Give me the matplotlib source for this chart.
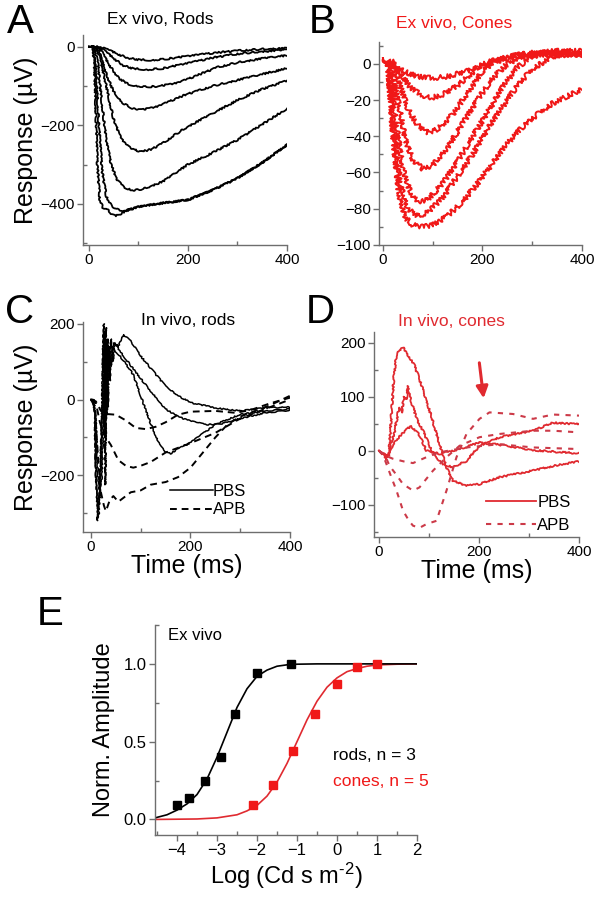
import matplotlib
matplotlib.use("Agg")
import matplotlib.pyplot as plt
from matplotlib.ticker import MultipleLocator

plt.rcParams['font.family'] = ['Liberation Sans', 'DejaVu Sans']
plt.rcParams['mathtext.fontset'] = 'custom'
plt.rcParams['mathtext.rm'] = 'Liberation Sans'
plt.rcParams['mathtext.it'] = 'Liberation Sans:italic'
plt.rcParams['mathtext.bf'] = 'Liberation Sans:bold'

# ---------------- Panel A: ex vivo rods (time ms, response uV) ----------------
rods_ex_t = [
    [0, 20, 40, 60, 80, 100, 120, 150, 200, 250, 300, 350, 400],
    [0, 15, 30, 50, 70, 90, 120, 150, 200, 250, 300, 350, 400],
    [0, 15, 25, 40, 60, 80, 110, 140, 180, 220, 260, 300, 350, 400],
    [0, 12, 20, 35, 50, 70, 90, 110, 140, 170, 200, 250, 300, 350, 400],
    [0, 12, 20, 30, 40, 50, 60, 70, 85, 105, 125, 150, 175, 200, 250, 300, 350, 400],
    [0, 10, 18, 25, 35, 45, 55, 70, 90, 110, 150, 200, 250, 300, 350, 400],
    [0, 8, 14, 20, 27, 35, 45, 60, 75, 100, 150, 200, 250, 300, 350, 400],
    [0, 8, 12, 17, 22, 28, 35, 45, 55, 65, 80, 100, 150, 200, 250, 300, 350, 400],
]
rods_ex_v = [
    [0, 0, -8, -20, -29, -33, -34, -32, -24, -16, -10, -6, -4],
    [0, 0, -8, -30, -48, -56, -58, -55, -42, -28, -18, -12, -8],
    [0, 0, -10, -45, -80, -96, -102, -101, -92, -72, -52, -40, -30, -22],
    [0, 0, -10, -70, -115, -145, -158, -160, -152, -135, -120, -100, -85, -70, -55],
    [0, 0, -20, -70, -130, -185, -220, -243, -260, -267, -262, -245, -223, -203, -170, -136, -108, -86],
    [0, 0, -40, -130, -240, -300, -335, -358, -366, -362, -343, -300, -270, -237, -198, -157],
    [0, 0, -60, -200, -320, -380, -405, -416, -418, -408, -398, -390, -365, -335, -295, -250],
    [0, 0, -80, -300, -390, -410, -412, -425, -430, -425, -415, -408, -398, -390, -365, -335, -295, -250],
]

# ---------------- Panel B: ex vivo cones ----------------
cones_ex_t = [
    [0, 20, 40, 70, 100, 130, 170, 200, 250, 300, 350, 400],
    [0, 20, 35, 55, 75, 95, 120, 150, 175, 200, 250, 300, 350, 400],
    [0, 20, 35, 50, 70, 90, 110, 140, 170, 200, 230, 270, 320, 400],
    [0, 15, 30, 45, 60, 80, 100, 130, 160, 190, 220, 250, 290, 340, 400],
    [0, 12, 25, 40, 55, 70, 90, 120, 150, 180, 210, 240, 270, 300, 350, 400],
    [0, 10, 22, 35, 50, 70, 90, 120, 150, 180, 210, 240, 270, 300, 340, 400],
    [0, 10, 20, 32, 45, 60, 80, 100, 130, 160, 190, 220, 250, 280, 310, 340, 370, 400],
]
cones_ex_v = [
    [2, 0, -4, -7, -8, -7, -4, -1, 3, 5, 5, 5],
    [2, 1, -5, -13, -17, -19, -17, -12, -6, 0, 4, 6, 5, 5],
    [3, 0, -12, -25, -34, -38, -36, -28, -16, -4, 2, 5, 6, 5],
    [3, 0, -20, -42, -53, -58, -56, -46, -33, -20, -8, 0, 5, 7, 6],
    [3, 0, -30, -58, -71, -76, -75, -66, -54, -40, -27, -13, -2, 4, 7, 7],
    [3, 0, -35, -67, -80, -84, -82, -74, -62, -50, -36, -24, -12, -3, 4, 6],
    [3, 0, -40, -72, -85, -89, -90, -89, -84, -76, -66, -55, -44, -35, -28, -22, -18, -14],
]

# ---------------- Panel C: in vivo rods ----------------
rods_iv_pbs_t = [
    [0, 4, 7, 10, 13, 16, 19, 22, 24, 26, 28, 30, 32, 34, 37, 40, 44, 48, 55, 65, 80, 100, 125, 150, 175, 200, 250, 300, 350, 400],
    [0, 5, 8, 11, 14, 17, 21, 24, 27, 29, 31, 34, 37, 41, 46, 52, 60, 80, 100, 125, 150, 175, 200, 230, 260, 300, 350, 400],
    [0, 6, 10, 14, 18, 22, 25, 27, 29, 31, 34, 38, 42, 48, 55, 70, 85, 100, 118, 135, 150, 160, 175, 200, 225, 250, 300, 350, 400],
]
rods_iv_pbs_v = [
    [0, 0, -30, -200, -320, -300, -180, -40, 120, 200, -80, 190, -40, 160, 60, 160, 100, 150, 140, 172, 155, 115, 75, 35, 10, -8, -22, -30, -22, -20],
    [0, 0, -40, -240, -290, -250, -120, 60, 180, -100, 120, -20, 140, 90, 150, 140, 125, 90, 55, 15, -25, -45, -57, -66, -65, -50, -35, -28],
    [0, 0, -60, -200, -260, -200, -50, 150, -225, 100, 130, 50, 140, 130, 120, 95, 66, 10, -57, -110, -138, -143, -130, -114, -90, -66, -39, -30, -25],
]
rods_iv_apb_t = [
    [0, 10, 20, 30, 50, 70, 90, 110, 130, 150, 175, 200, 250, 290, 320, 360, 400],
    [0, 10, 18, 25, 30, 40, 55, 70, 85, 100, 120, 150, 200, 250, 300, 350, 400],
    [0, 8, 14, 20, 26, 30, 38, 45, 55, 65, 80, 100, 120, 150, 175, 200, 225, 250, 275, 300, 330, 360, 400],
]
rods_iv_apb_v = [
    [0, -5, -30, -38, -40, -55, -75, -78, -72, -60, -40, -32, -30, -35, -28, -10, 5],
    [0, -10, -60, -90, -100, -120, -160, -175, -180, -175, -165, -140, -115, -88, -50, -25, 0],
    [0, -20, -150, -245, -280, -295, -265, -255, -270, -260, -245, -240, -225, -218, -205, -180, -140, -100, -65, -45, -30, -15, 10],
]

# ---------------- Panel D: in vivo cones ----------------
cones_iv_pbs_t = [
    [0, 8, 15, 20, 25, 30, 35, 42, 48, 55, 60, 70, 80, 95, 115, 135, 148, 175, 201, 241, 308, 350, 400],
    [0, 8, 15, 20, 25, 30, 35, 40, 45, 50, 55, 58, 62, 65, 75, 88, 108, 128, 148, 175, 201, 241, 308, 348, 400],
    [0, 8, 15, 20, 25, 35, 45, 55, 65, 80, 95, 121, 161, 201, 241, 308, 350, 400],
]
cones_iv_pbs_v = [
    [0, -8, -15, -5, 70, 140, 180, 185, 192, 180, 175, 160, 135, 93, 31, -31, -56, -65, -62, -49, -37, -28, -20],
    [0, -6, -12, -8, 15, 30, 55, 80, 70, 100, 95, 120, 100, 90, 60, 37, -6, -25, -31, -19, 9, 25, 37, 52, 49],
    [0, -5, -10, -5, 5, 20, 30, 40, 45, 30, 0, -6, 3, 15, 11, 1, -2, -5],
]
cones_iv_apb_t = [
    [0, 8, 15, 25, 35, 48, 60, 68, 81, 95, 115, 135, 155, 175, 201, 221, 268, 308, 348, 400],
    [0, 8, 15, 21, 35, 48, 68, 81, 108, 135, 161, 201, 241, 308, 348, 400],
    [0, 8, 15, 28, 50, 68, 95, 121, 175, 241, 308, 400],
]
cones_iv_apb_v = [
    [0, -8, -25, -50, -74, -111, -130, -139, -143, -136, -130, -74, -12, 31, 59, 71, 68, 59, 67, 65],
    [0, -8, -15, -28, -45, -62, -74, -68, -37, -12, 9, 25, 31, 37, 37, 34],
    [0, -5, -10, -15, -20, -23, -12, -3, 6, 12, 6, 3],
]

# ---------------- Panel E: intensity-response ----------------
rod_logI = [-4.0, -3.7, -3.3, -2.9, -2.55, -2.0, -1.15]
rod_amp = [0.09, 0.14, 0.25, 0.40, 0.68, 0.94, 1.00]
cone_logI = [-2.1, -1.6, -1.1, -0.55, 0.0, 0.5, 1.0]
cone_amp = [0.09, 0.22, 0.44, 0.68, 0.87, 0.98, 1.00]
# fitted curves
rod_fit_x = [-4.55, -4.25, -4.0, -3.75, -3.5, -3.25, -3.0, -2.75, -2.5, -2.25, -2.0, -1.75, -1.5, -1.25, -1.0, -0.5, 0.0, 1.0, 2.0]
rod_fit_y = [0.01, 0.03, 0.06, 0.10, 0.16, 0.26, 0.40, 0.56, 0.72, 0.84, 0.92, 0.96, 0.985, 0.994, 0.998, 1.0, 1.0, 1.0, 1.0]
cone_fit_x = [-4.55, -3.5, -3.0, -2.5, -2.25, -2.0, -1.75, -1.5, -1.25, -1.0, -0.75, -0.5, -0.25, 0.0, 0.25, 0.5, 0.75, 1.0, 1.5, 2.0]
cone_fit_y = [0.0, 0.003, 0.01, 0.03, 0.055, 0.09, 0.15, 0.24, 0.36, 0.50, 0.64, 0.76, 0.85, 0.91, 0.95, 0.97, 0.985, 0.993, 0.998, 1.0]

RED = '#f01818'
RED_D = '#e02a30'
RED_DASH = '#cc3a48'
AXC = '#6e6e6e'

fig = plt.figure(figsize=(5.99, 9.0), dpi=100)


def style(ax, xmaj, xmin, ymaj, ymin, fs=11):
    for s in ('top', 'right'):
        ax.spines[s].set_visible(False)
    for s in ('left', 'bottom'):
        ax.spines[s].set_color(AXC)
        ax.spines[s].set_linewidth(1.0)
    ax.xaxis.set_major_locator(MultipleLocator(xmaj))
    ax.xaxis.set_minor_locator(MultipleLocator(xmin))
    ax.yaxis.set_major_locator(MultipleLocator(ymaj))
    ax.yaxis.set_minor_locator(MultipleLocator(ymin))
    ax.tick_params(which='major', direction='out', length=4, width=1, color=AXC, labelsize=fs, pad=2)
    ax.tick_params(which='minor', direction='in', length=3, width=1, color=AXC)
    ax.set_facecolor('none')


# ---- A ----
axA = fig.add_axes([83/599, 1-245/900, (287-83)/599, (245-35)/900])
for t, v in zip(rods_ex_t, rods_ex_v):
    ln, = axA.plot(t, v, color='black', lw=1.3)
    ln.set_sketch_params(scale=0.8, length=4, randomness=20)
axA.set_xlim(-12, 400)
axA.set_ylim(-505, 30)
style(axA, 200, 100, 200, 100)
axA.set_ylabel('Response (\u00b5V)', fontsize=18, labelpad=2)
fig.text(160/599, 1-19/900, 'Ex vivo, Rods', fontsize=12.5, ha='center', va='center')

# ---- B ----
axB = fig.add_axes([379/599, 1-245/900, (582-379)/599, (245-42)/900])
for t, v in zip(cones_ex_t, cones_ex_v):
    ln, = axB.plot(t, v, color=RED, lw=1.4)
    ln.set_sketch_params(scale=2.4, length=1.8, randomness=8)
axB.set_xlim(-8, 400)
axB.set_ylim(-100, 12)
style(axB, 200, 100, 20, 10)
fig.text(454/599, 1-23/900, 'Ex vivo, Cones', fontsize=12.5, ha='center', va='center', color=RED)

# ---- C ----
axC = fig.add_axes([83/599, 1-532/900, (290-83)/599, (532-322)/900])
for t, v in zip(rods_iv_pbs_t, rods_iv_pbs_v):
    ln, = axC.plot(t, v, color='black', lw=1.1)
    ln.set_sketch_params(scale=0.6, length=4, randomness=20)
for t, v in zip(rods_iv_apb_t, rods_iv_apb_v):
    axC.plot(t, v, color='black', lw=1.4, ls=(0, (3.5, 2.5)))
axC.set_xlim(-16, 400)
axC.set_ylim(-350, 205)
style(axC, 200, 100, 200, 100)
axC.set_ylabel('Response (\u00b5V)', fontsize=18, labelpad=2)
axC.set_xlabel('Time (ms)', fontsize=18, labelpad=0)
fig.text(188/599, 1-320/900, 'In vivo, rods', fontsize=12.5, ha='center', va='center')
hC1, = axC.plot([], [], color='black', lw=1.1)
hC2, = axC.plot([], [], color='black', lw=1.4, ls=(0, (3.5, 2.5)))
axC.legend([hC1, hC2], ['PBS', 'APB'], loc='lower right', bbox_to_anchor=(0.83, 0.03),
           frameon=False, fontsize=12, handlelength=2.6, handletextpad=0.0,
           labelspacing=0.2, borderpad=0)

# ---- D ----
axD = fig.add_axes([374/599, 1-537/900, (579-374)/599, (537-332)/900])
for t, v in zip(cones_iv_pbs_t, cones_iv_pbs_v):
    ln, = axD.plot(t, v, color=RED_D, lw=1.3)
    ln.set_sketch_params(scale=0.8, length=3, randomness=15)
for t, v in zip(cones_iv_apb_t, cones_iv_apb_v):
    axD.plot(t, v, color=RED_DASH, lw=1.5, ls=(0, (2.5, 3)))
axD.set_xlim(-10, 400)
axD.set_ylim(-160, 220)
style(axD, 200, 100, 100, 50)
axD.set_xlabel('Time (ms)', fontsize=18, labelpad=0)
fig.text(451/599, 1-322/900, 'In vivo, cones', fontsize=12.5, ha='center', va='center', color=RED_D)
axD.annotate('', xy=(210, 92), xytext=(200, 168),
             arrowprops=dict(arrowstyle='-|>,head_width=0.35,head_length=0.7', color=RED_D, lw=2.2))
hD1, = axD.plot([], [], color=RED_D, lw=1.3)
hD2, = axD.plot([], [], color=RED_DASH, lw=1.5, ls=(0, (2.5, 3)))
axD.legend([hD1, hD2], ['PBS', 'APB'], loc='lower right', bbox_to_anchor=(1.0, -0.02),
           frameon=False, fontsize=12, handlelength=3.0, handletextpad=0.1,
           labelspacing=0.45, borderpad=0)

# ---- E ----
axE = fig.add_axes([155/599, 1-835/900, (417-155)/599, (835-625)/900])
axE.plot(cone_fit_x, cone_fit_y, color=RED_D, lw=1.2)
axE.plot(rod_fit_x, rod_fit_y, color='black', lw=1.2)
axE.plot(rod_logI, rod_amp, ls='none', marker='s', ms=5.5, color='black')
axE.plot(cone_logI, cone_amp, ls='none', marker='s', ms=5.5, color=RED)
axE.set_xlim(-4.55, 2)
axE.set_ylim(-0.1, 1.25)
style(axE, 1, 0.5, 0.5, 0.25, fs=12)
axE.set_ylabel('Norm. Amplitude', fontsize=17, labelpad=6)
axE.set_xlabel('Log (Cd s m$^{\u2010\\mathrm{2}}$)', fontsize=17, labelpad=2)
fig.text(168/599, 1-635/900, 'Ex vivo', fontsize=12, ha='left', va='center')
fig.text(333/599, 1-755/900, 'rods, n = 3', fontsize=12.5, ha='left', va='center')
fig.text(333/599, 1-781/900, 'cones, n = 5', fontsize=12.5, ha='left', va='center', color=RED)

# ---- panel letters ----
for lab, x, y in [('A', 20, 22), ('B', 322, 22), ('C', 20, 312), ('D', 320, 312), ('E', 50, 614)]:
    fig.text(x/599, 1-y/900, lab, fontsize=29, ha='center', va='center')

fig.savefig('out.png', dpi=100)
